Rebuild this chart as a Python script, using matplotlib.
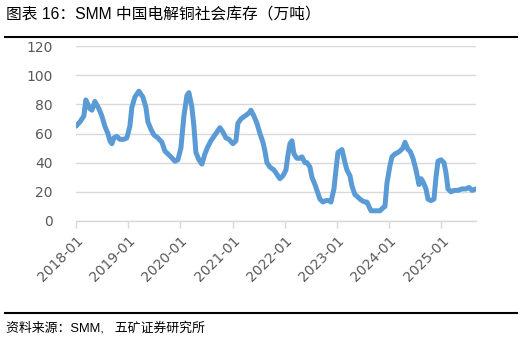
import matplotlib
matplotlib.use("Agg")
import matplotlib.pyplot as plt
import pandas as pd

plt.rcParams['font.family'] = ['Liberation Sans', 'Noto Sans CJK SC', 'DejaVu Sans']

title = "图表 16：SMM 中国电解铜社会库存（万吨）"
source = "资料来源：SMM,   五矿证券研究所"

dates = [
    "2018-01-01", "2018-01-29", "2018-02-25", "2018-03-11", "2018-04-08", "2018-04-22",
    "2018-05-13", "2018-06-10", "2018-07-01", "2018-07-22", "2018-08-12", "2018-08-26",
    "2018-09-09", "2018-09-23", "2018-10-14", "2018-11-04", "2018-12-02", "2018-12-23",
    "2019-01-13", "2019-01-27", "2019-02-17", "2019-03-17", "2019-04-14", "2019-05-05",
    "2019-05-19", "2019-06-09", "2019-06-30", "2019-07-28", "2019-08-25", "2019-09-15",
    "2019-10-06", "2019-10-27", "2019-11-24", "2019-12-15", "2020-01-05", "2020-01-26",
    "2020-02-16", "2020-03-01", "2020-03-22", "2020-04-05", "2020-04-19", "2020-05-10",
    "2020-05-31", "2020-06-21", "2020-07-12", "2020-08-02", "2020-08-23", "2020-09-13",
    "2020-10-04", "2020-10-25", "2020-11-15", "2020-12-06", "2021-01-03", "2021-01-24",
    "2021-02-07", "2021-02-28", "2021-03-28", "2021-04-25", "2021-05-09", "2021-05-30",
    "2021-06-20", "2021-07-11", "2021-08-01", "2021-08-15", "2021-08-29", "2021-09-19",
    "2021-10-17", "2021-11-07", "2021-11-28", "2021-12-19", "2022-01-09", "2022-01-23",
    "2022-02-06", "2022-02-20", "2022-03-06", "2022-03-27", "2022-04-17", "2022-05-01",
    "2022-05-22", "2022-06-05", "2022-06-26", "2022-07-10", "2022-07-31", "2022-08-14",
    "2022-09-04", "2022-09-25", "2022-10-16", "2022-11-06", "2022-11-20", "2022-12-11",
    "2022-12-25", "2023-01-08", "2023-02-05", "2023-02-26", "2023-03-12", "2023-04-02",
    "2023-04-16", "2023-05-07", "2023-05-21", "2023-06-11", "2023-06-25", "2023-07-16",
    "2023-07-30", "2023-08-13", "2023-08-27", "2023-09-17", "2023-10-08", "2023-10-29",
    "2023-11-19", "2023-12-03", "2023-12-17", "2024-01-07", "2024-01-21", "2024-02-11",
    "2024-03-03", "2024-03-17", "2024-04-07", "2024-04-21", "2024-05-12", "2024-05-26",
    "2024-06-16", "2024-07-07", "2024-07-28", "2024-08-11", "2024-08-25", "2024-09-15",
    "2024-09-29", "2024-10-20", "2024-11-10", "2024-11-24", "2024-12-08", "2024-12-29",
    "2025-01-19", "2025-02-02", "2025-02-16", "2025-03-09", "2025-03-30", "2025-04-27",
    "2025-05-25", "2025-06-22", "2025-07-13", "2025-08-03", "2025-08-31",
]
inventory = [
    65, 68, 72, 83, 77, 76,
    82, 77, 72, 65, 60, 55,
    53, 57, 58, 56, 56, 57,
    65, 78, 85, 89, 85, 78,
    68, 63, 59, 57, 54, 48,
    46, 44, 41, 42, 50, 72,
    86, 88, 78, 65, 47, 42,
    39, 46, 51, 55, 58, 61,
    64, 61, 57, 56, 53, 55,
    67, 70, 72, 74, 76, 72,
    67, 60, 54, 48, 40, 37,
    35, 32, 29, 31, 35, 45,
    53, 55, 46, 43, 43, 44,
    40, 40, 37, 30, 25, 21,
    15, 13, 14, 14, 13, 22,
    35, 47, 49, 40, 35, 31,
    24, 18, 17, 15, 14, 13,
    13, 10, 7, 7, 7, 7,
    9, 10, 26, 38, 44, 46,
    47, 48, 50, 54, 49, 48,
    43, 35, 25, 29, 27, 22,
    15, 14, 15, 30, 41, 42,
    40, 33, 22, 20, 21, 21,
    22, 22, 23, 21, 22,
]
x_ticks = ["2018-01", "2019-01", "2020-01", "2021-01", "2022-01", "2023-01", "2024-01", "2025-01"]
y_ticks = [0, 20, 40, 60, 80, 100, 120]

dt = pd.to_datetime(dates)

fig = plt.figure(figsize=(5.22, 3.41), dpi=100)
ax = fig.add_axes([76/522, 1-221/341, 400/522, 175/341])

ax.plot(dt, inventory, color="#5B9BD5", linewidth=3.6, solid_joinstyle="round",
        solid_capstyle="round", zorder=3)

ax.set_ylim(0, 120)
ax.set_yticks(y_ticks)
ax.set_yticklabels([str(v) for v in y_ticks], family="DejaVu Sans")
ax.set_xlim(pd.Timestamp("2018-01-01"), pd.Timestamp("2025-08-31"))
tick_pos = pd.to_datetime([t + "-01" for t in x_ticks])
ax.set_xticks(tick_pos)
ax.set_xticklabels(x_ticks, rotation=45, ha="right", va="top", rotation_mode="anchor",
                   family="DejaVu Sans")

ax.grid(axis="y", color="#D9D9D9", linewidth=1.0, zorder=0)
for s in ["top", "right", "left"]:
    ax.spines[s].set_visible(False)
ax.spines["bottom"].set_color("#D9D9D9")
ax.spines["bottom"].set_linewidth(1.0)
ax.tick_params(axis="y", length=0, pad=17, labelsize=10, labelcolor="#595959")
ax.tick_params(axis="x", length=5, width=1.0, color="#D9D9D9", pad=4,
               labelsize=10, labelcolor="#595959", direction="out")

fig.text(6/522, 1-15/341, title, fontsize=11.3, color="#000000", va="center", ha="left")
fig.add_artist(plt.Line2D([5/522, 517/522], [1-37/341, 1-37/341], color="#000000", linewidth=1.5))
fig.add_artist(plt.Line2D([5/522, 517/522], [1-313/341, 1-313/341], color="#000000", linewidth=1.5))
fig.text(6/522, 1-328/341, source, fontsize=9.3, color="#000000", va="center", ha="left")

fig.savefig("out.png", dpi=100)
